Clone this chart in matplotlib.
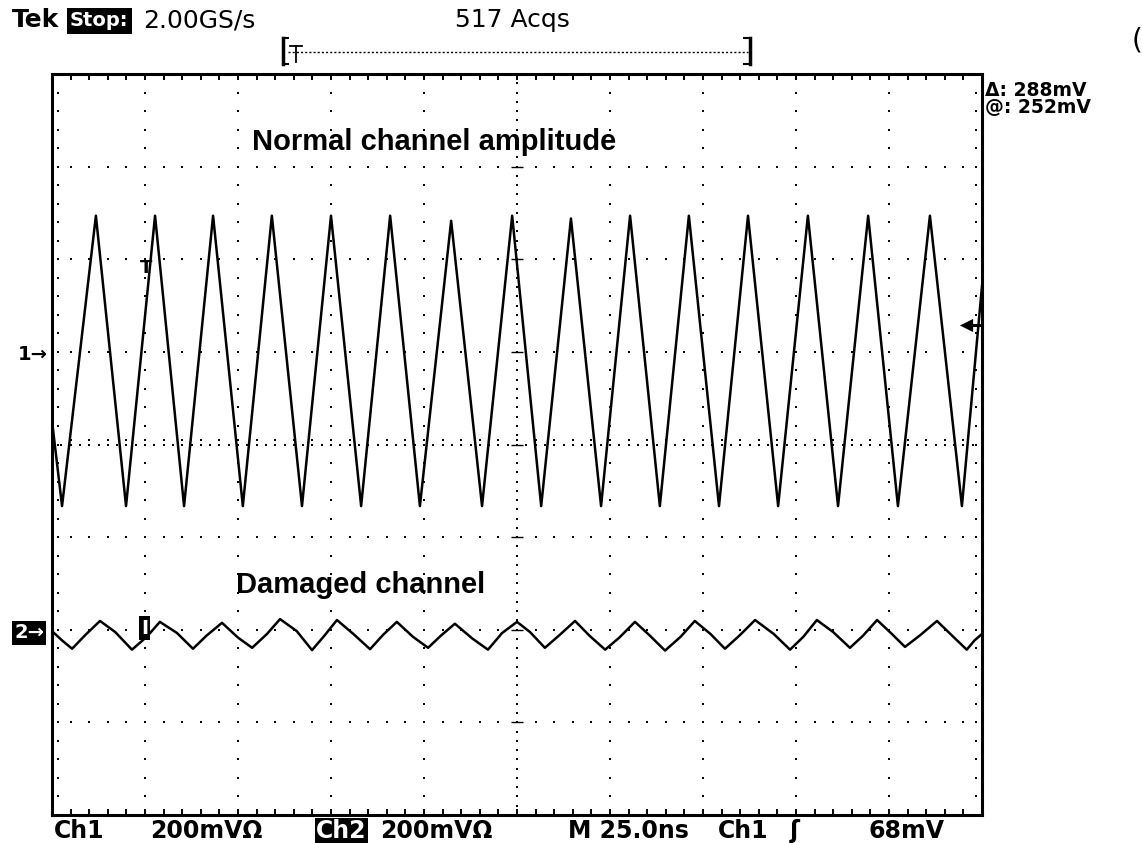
import matplotlib
matplotlib.use('Agg')
import matplotlib.pyplot as plt
import numpy as np

# 示波器截图: Tek 2.00GS/s, 200mV/div, 25ns/div
W, H = 1142, 843

# 通道1 (正常通道) 折点: 时间 ns, 相对通道地电平 mV
ch1_t = [0, 2.7, 11.8, 19.9, 27.7, 35.5, 43.3, 51.3, 59.1, 67.2, 75.0, 83.1,
         90.9, 98.9, 107.3, 115.6, 123.7, 131.5, 139.5, 147.6, 155.4, 163.4,
         171.2, 179.3, 187.1, 195.2, 203.2, 211.3, 219.4, 227.4, 236.0, 244.6, 250]
ch1_mv = [-141, -325, 302, -325, 302, -325, 302, -325, 302, -325, 302, -325,
          302, -325, 291, -325, 302, -325, 296, -325, 302, -325,
          302, -325, 302, -325, 302, -325, 302, -325, 302, -325, 150]

# 通道2 (损坏通道)
ch2_t = [0, 2.7, 5.4, 9.0, 12.9, 17.0, 21.5, 25.5, 29.0, 33.6, 37.9, 41.5,
         45.7, 50.0, 53.8, 57.8, 61.3, 65.8, 69.9, 73.0, 76.6, 81.0, 85.5,
         89.0, 92.7, 97.0, 101.1, 104.5, 108.3, 113.0, 117.2, 121.0, 125.0,
         128.5, 132.5, 136.5, 140.6, 144.5, 148.7, 152.5, 156.7, 160.5, 164.8,
         169.0, 172.8, 177.0, 180.9, 185.0, 189.0, 194.0, 198.4, 202.0, 205.6,
         210.0, 214.5, 218.0, 221.8, 225.5, 229.3, 233.5, 237.9, 242.0, 245.9,
         248.0, 250]
ch2_mv = [6, -14, -32, -2, 28, 4, -34, -6, 26, 2, -32, -4,
          24, -8, -30, 0, 32, 6, -35, -6, 30, 0, -33,
          -2, 26, -6, -30, -4, 22, -10, -34, 2, 26,
          4, -30, -2, 28, -4, -34, -8, 26, -2, -36,
          -6, 28, 0, -32, -2, 30, 0, -34, -6, 30,
          4, -30, -4, 30, 2, -28, -2, 28, -4, -34,
          -14, 0]

ch1_ground = 192    # mV, "1->" 标记
ch2_ground = -409   # mV, "2->" 标记

fig = plt.figure(figsize=(W / 100, H / 100), dpi=100)
ax = fig.add_axes([52 / W, (H - 815) / H, 930 / W, 741 / H])
ax.set_xlim(0, 250)
ax.set_ylim(-800, 800)
ax.set_xticks([])
ax.set_yticks([])
for s in ax.spines.values():
    s.set_linewidth(2.2)

# 网格点
dot = dict(marker='s', s=2.2, color='black', linewidths=0, zorder=1)
for k in range(1, 10):
    if k == 5:
        continue
    yy = np.arange(-800, 801, 40)
    ax.scatter(np.full(len(yy), 25 * k), yy, **dot)
for j in range(-3, 4):
    if j == 0:
        continue
    xx = np.arange(0, 251, 5)
    ax.scatter(xx, np.full(len(xx), 200 * j), **dot)
# 中心十字线
yy = np.arange(-800, 801, 20)
ax.scatter(np.full(len(yy), 125), yy, **dot)
ax.hlines(np.arange(-800, 801, 200), 123.5, 126.5, color='black', lw=1.0)
xx = np.arange(0, 251, 2.5)
ax.scatter(xx, np.zeros(len(xx)), **dot)
ax.scatter(np.arange(0, 251, 5), np.full(51, 10), **dot)
# 边框刻度
ax.vlines(np.arange(0, 251, 5), 786, 800, color='black', lw=1.4)
ax.vlines(np.arange(0, 251, 5), -800, -786, color='black', lw=1.4)
yy = np.arange(-800, 801, 40)
ax.scatter(np.full(len(yy), 1.5), yy, **dot)
ax.scatter(np.full(len(yy), 248.5), yy, **dot)

# 波形
ax.plot(ch1_t, np.array(ch1_mv) + ch1_ground, color='black', lw=1.8, zorder=3)
ax.plot(ch2_t, np.array(ch2_mv) + ch2_ground, color='black', lw=1.8, zorder=3)

# 覆盖层, 像素坐标
ov = fig.add_axes([0, 0, 1, 1])
ov.set_xlim(0, W)
ov.set_ylim(H, 0)
ov.axis('off')
ov.patch.set_visible(False)

hdr = dict(fontsize=18, family='DejaVu Sans', va='baseline')
ov.text(12, 27, 'Tek', fontweight='bold', **hdr)
ov.text(70, 26, 'Stop:', color='white', fontweight='bold', fontsize=14,
        va='baseline', bbox=dict(facecolor='black', edgecolor='none', pad=2.5))
ov.text(143, 27, '2.00GS/s', **hdr)
ov.text(455, 27, '517 Acqs', **hdr)
ov.text(1132, 48, '(', fontsize=20, va='baseline')

# 记录长度条
ov.plot([283, 283], [38, 64], color='black', lw=2.5)
ov.plot([283, 288], [38, 38], color='black', lw=1.5)
ov.plot([283, 288], [64, 64], color='black', lw=1.5)
ov.plot([288, 748], [52, 52], color='black', lw=1.0, ls=(0, (1.5, 1.5)))
ov.plot([750, 750], [38, 64], color='black', lw=2.5)
ov.plot([744, 750], [38, 38], color='black', lw=1.5)
ov.plot([744, 750], [64, 64], color='black', lw=1.5)
ov.plot([290, 302], [46, 46], color='black', lw=1.3)
ov.plot([296, 296], [46, 62], color='black', lw=1.3)

# 光标读数
cur = dict(fontsize=13.5, fontweight='bold', family='DejaVu Sans', va='baseline')
ov.text(985, 96, 'Δ: 288mV', **cur)
ov.text(985, 113, '@: 252mV', **cur)

# 注释文字
lab = dict(fontsize=21, fontweight='bold', family=['Liberation Sans', 'DejaVu Sans'],
           va='baseline')
ov.text(252, 150, 'Normal channel amplitude', **lab)
ov.text(236, 593, 'Damaged channel', **lab)

# 通道标记
ov.text(18, 355, '1→', fontsize=14, fontweight='bold', va='center')
ov.text(14, 633, '2→', fontsize=14, fontweight='bold', va='center', color='white',
        bbox=dict(facecolor='black', edgecolor='none', pad=1.5))
ov.text(141, 628, 'I', fontsize=14, fontweight='bold', va='center', color='white',
        bbox=dict(facecolor='black', edgecolor='none', pad=1.5))
ov.text(140, 268, 'T', fontsize=13, fontweight='bold', va='center')
# 触发电平箭头
ov.plot([968, 982], [325, 325], color='black', lw=2.2)
ov.scatter([966], [325], marker='<', s=90, color='black', linewidths=0)

# 底部状态栏
bot = dict(fontsize=17, fontweight='bold', va='baseline', family='DejaVu Sans')
ov.text(54, 838, 'Ch1', **bot)
ov.text(150, 838, '200mVΩ', **bot)
ov.text(316, 838, 'Ch2', color='white',
        bbox=dict(facecolor='black', edgecolor='none', pad=1.0), **bot)
ov.text(380, 838, '200mVΩ', **bot)
ov.text(568, 838, 'M 25.0ns', **bot)
ov.text(718, 838, 'Ch1', **bot)
ov.text(790, 838, 'ʃ', **bot)
ov.text(868, 838, '68mV', **bot)

fig.savefig('out.png', dpi=100)
